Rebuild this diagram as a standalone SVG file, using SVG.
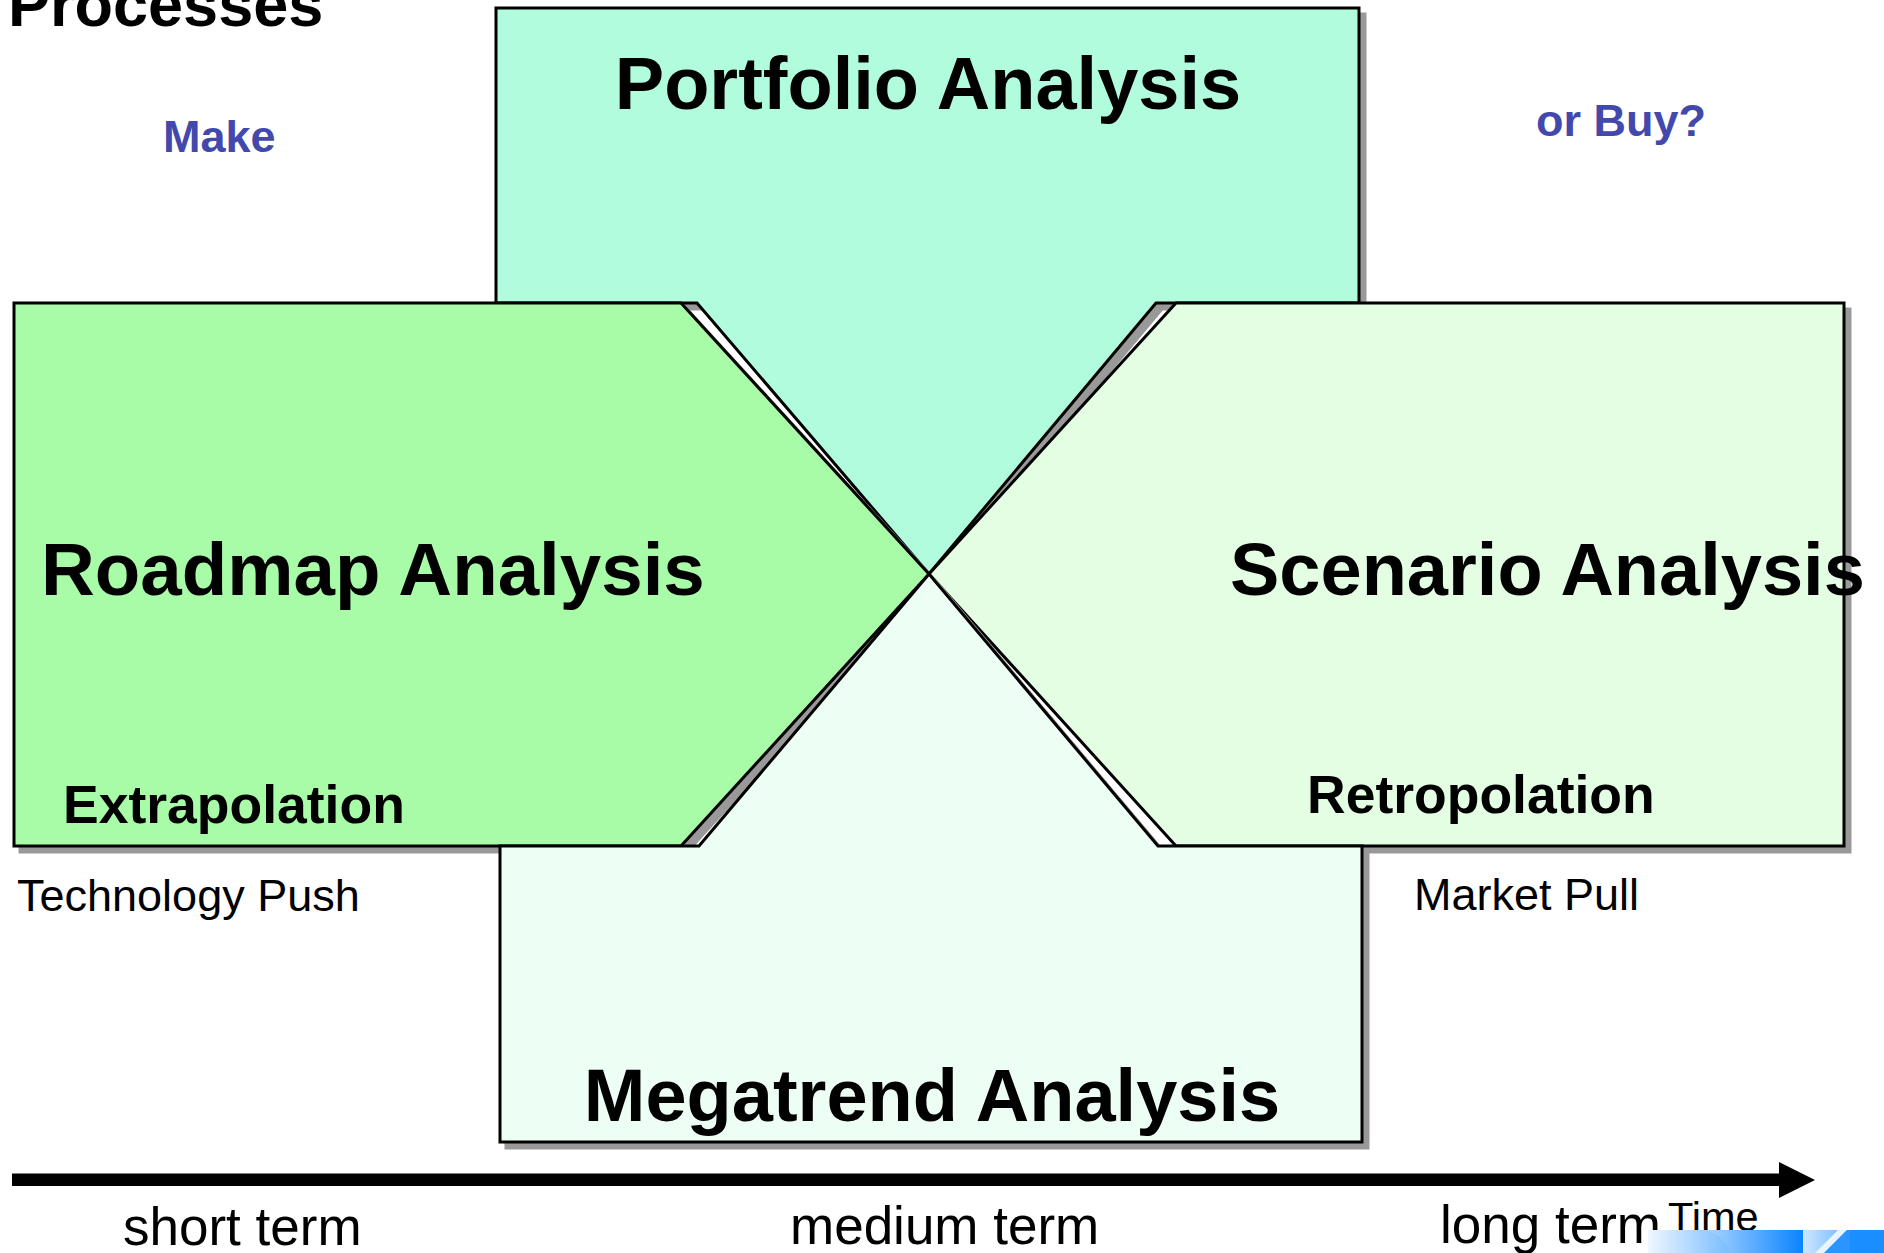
<svg xmlns="http://www.w3.org/2000/svg" width="1884" height="1253" viewBox="0 0 1884 1253">
<style>
.shape{stroke:#000;stroke-width:3;stroke-linejoin:miter}
.shadow{fill:#999;stroke:#999;stroke-width:3}
.big{font-family:"Liberation Sans",Arial,sans-serif;font-weight:bold;font-size:74px;fill:#000}
.sub{font-family:"Liberation Sans",Arial,sans-serif;font-weight:bold;font-size:53.5px;fill:#000}
.reg{font-family:"Liberation Sans",Arial,sans-serif;font-size:45px;fill:#000}
.term{font-family:"Liberation Sans",Arial,sans-serif;font-size:53px;fill:#000}
.blue{font-family:"Liberation Sans",Arial,sans-serif;font-weight:bold;font-size:45px;fill:#4349AC}
</style>
<defs>
<linearGradient id="g1" x1="0" y1="0" x2="1" y2="0">
<stop offset="0" stop-color="#eef7ff"/>
<stop offset="1" stop-color="#1088ff"/>
</linearGradient>
<linearGradient id="g2" x1="0" y1="0" x2="1" y2="0">
<stop offset="0" stop-color="#a8d4ff"/>
<stop offset="1" stop-color="#0a84ff"/>
</linearGradient>
<linearGradient id="g3" x1="0" y1="0" x2="1" y2="0">
<stop offset="0" stop-color="#cfe7ff"/>
<stop offset="1" stop-color="#168cff"/>
</linearGradient>
</defs>
<rect width="1884" height="1253" fill="#fff"/>

<g id="title">
<text x="8" y="26" style="font-family:'Liberation Sans',Arial,sans-serif;font-weight:bold;font-size:63px">Processes</text>
</g>

<g id="portfolio">
<polygon class="shadow" transform="translate(6,6)" points="496,8 1359,8 1359,303 1156,303 929,574 697,303 496,303"/>
<polygon class="shape" fill="#B0FCDC" points="496,8 1359,8 1359,303 1156,303 929,574 697,303 496,303"/>
<text class="big" x="928" y="108.5" text-anchor="middle">Portfolio Analysis</text>
</g>

<g id="roadmap">
<polygon class="shadow" transform="translate(6,6)" points="14,303 681,303 929,574 681,846 14,846"/>
<polygon class="shape" fill="#A8FCA8" points="14,303 681,303 929,574 681,846 14,846"/>
</g>

<g id="scenario">
<polygon class="shadow" transform="translate(6,6)" points="1176,303 1844,303 1844,846 1176,846 929,574"/>
<polygon class="shape" fill="#E3FEE3" points="1176,303 1844,303 1844,846 1176,846 929,574"/>
</g>

<g id="megatrend">
<polygon class="shadow" transform="translate(6,6)" points="500,846 699,846 929,574 1158,846 1362,846 1362,1142 500,1142"/>
<polygon class="shape" fill="#EDFEF5" points="500,846 699,846 929,574 1158,846 1362,846 1362,1142 500,1142"/>
<text class="big" x="932" y="1121" text-anchor="middle">Megatrend Analysis</text>
</g>

<g id="roadmap-labels">
<text class="big" x="41" y="595" style="font-size:74.5px">Roadmap Analysis</text>
<text class="sub" x="63" y="823">Extrapolation</text>
</g>

<g id="scenario-labels">
<text class="big" x="1230" y="595">Scenario Analysis</text>
<text class="sub" x="1307" y="813">Retropolation</text>
</g>

<g id="make-buy">
<text class="blue" x="163" y="152">Make</text>
<text class="blue" x="1536" y="136">or Buy?</text>
</g>

<g id="push-pull">
<text class="reg" x="17" y="910.7">Technology Push</text>
<text class="reg" x="1414" y="910">Market Pull</text>
</g>

<g id="connectors">
<rect x="12" y="1173.5" width="1770" height="12.5" fill="#000"/>
<polygon points="1779,1162 1815,1180 1779,1198" fill="#000"/>
</g>

<g id="time-labels">
<text class="term" x="123" y="1245">short term</text>
<text class="term" x="790" y="1244">medium term</text>
<text class="term" x="1440" y="1243">long term</text>
<text x="1668" y="1231" style="font-family:'Liberation Sans',Arial,sans-serif;font-size:41.5px">Time</text>
</g>

<g id="logo">
<rect x="1648" y="1230" width="155" height="23" fill="url(#g1)"/>
<path d="M1707,1230 Q1724,1236 1730,1253 L1803,1253 L1803,1230 Z" fill="url(#g2)"/>
<rect x="1803" y="1230" width="81" height="23" fill="url(#g3)"/>
<polygon points="1815,1253 1824,1253 1847,1230 1838,1230" fill="#eaf4ff"/>
<rect x="1847" y="1230" width="37" height="23" fill="#1a8fff"/>
<polygon points="1824,1253 1847,1230 1850,1230 1850,1253" fill="#2a95ff"/>
</g>
</svg>
